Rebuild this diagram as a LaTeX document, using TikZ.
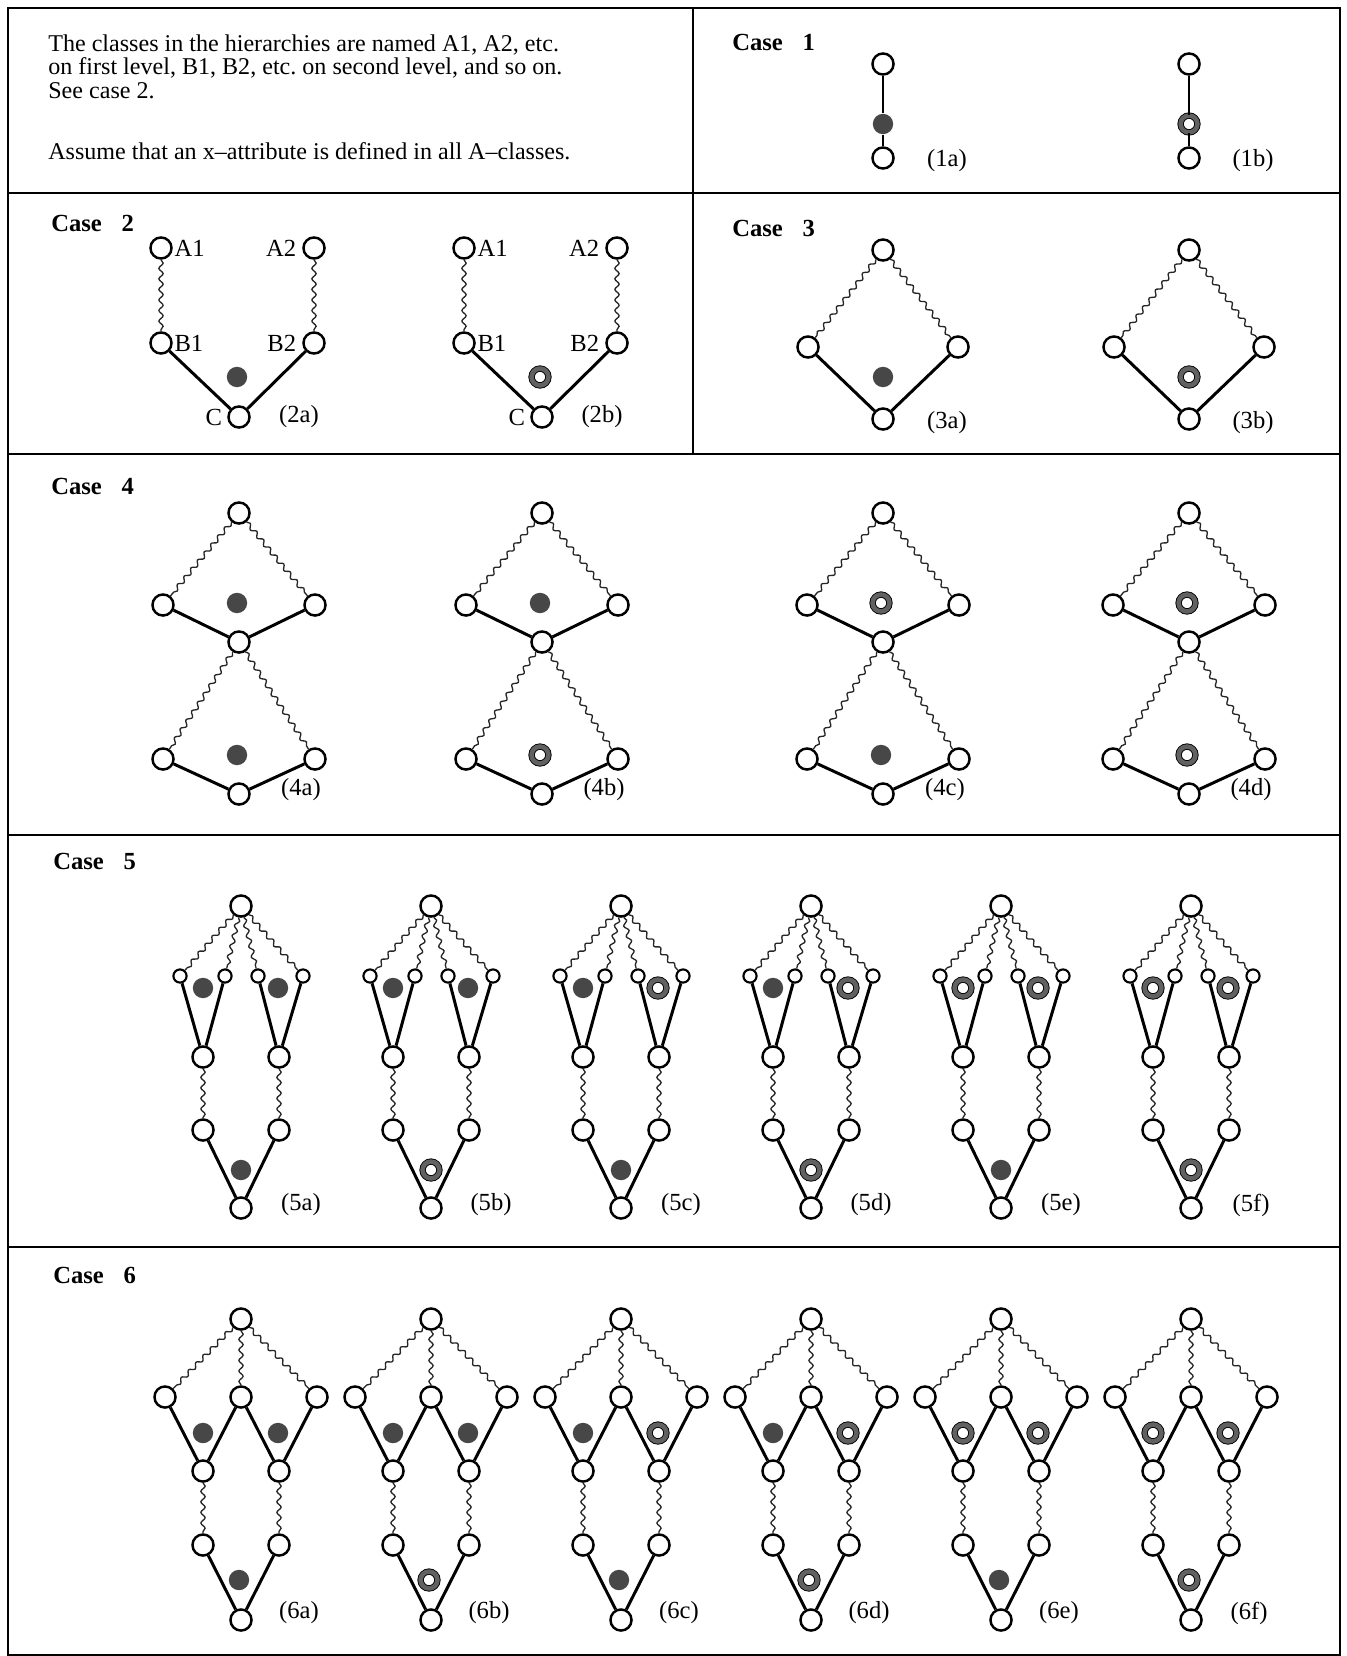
\documentclass[tikz,border=0pt]{standalone}
\usepackage{fontspec}
\setmainfont{Liberation Serif}
\usepackage{tikz}
\usetikzlibrary{decorations.pathmorphing}
\frenchspacing

\tikzset{
  cls/.style={circle,draw,line width=1.4pt,fill=white,inner sep=0pt,minimum size=12pt},
  leaf/.style={cls,line width=1.2pt,minimum size=7.5pt},
  xdot/.style={circle,fill=black!72,inner sep=0pt,minimum size=11.6pt},
  xring/.style={circle,draw=black,line width=0.5pt,double=black!62,double distance=2.6pt,fill=white,inner sep=0pt,minimum size=9.6pt},
  stem/.style={line width=1.2pt},
  bar/.style={line width=1.7pt},
  wavy/.style={line width=0.75pt,black!85,decorate,decoration={snake,amplitude=1.2pt,segment length=6pt}},
  lab/.style={inner sep=0.8pt},
  casehead/.style={anchor=west,inner sep=0pt,font=\fontsize{14}{13.3}\selectfont\bfseries},
  frame/.style={line width=1.3pt}
}

% case 1: two classes with the mark between them
\newcommand{\chaingraph}[4]{%
  \node[cls] (#2t) at (#1,64) {};
  \node[#3] (#2m) at (#1,124) {};
  \node[cls] (#2b) at (#1,158) {};
  \draw[stem] (#2t) -- (#2m) -- (#2b);
  \node (#2n) at (#1+64,161) {#4};%
}
% case 2: A1,A2 over B1,B2 over C
\newcommand{\vgraph}[4]{%
  \node[cls,label={[lab]right:A1}] (#2a) at (#1-78,248) {};
  \node[cls,label={[lab,xshift=-2.5pt]left:A2}] (#2e) at (#1+75,248) {};
  \node[cls,label={[lab]right:B1}] (#2l) at (#1-78,343) {};
  \node[cls,label={[lab,xshift=-2.5pt]left:B2}] (#2r) at (#1+75,343) {};
  \node[cls,label={[lab,xshift=-2pt]left:C}] (#2b) at (#1,417) {};
  \node[#3] (#2m) at (#1-2,377) {};
  \draw[wavy] (#2a) -- (#2l);
  \draw[wavy] (#2e) -- (#2r);
  \draw[bar] (#2l) -- (#2b) -- (#2r);
  \node (#2n) at (#1+60,417) {#4};%
}
% case 3: one diamond
\newcommand{\diamondgraph}[4]{%
  \node[cls] (#2t) at (#1,250) {};
  \node[cls] (#2l) at (#1-75,347) {};
  \node[cls] (#2r) at (#1+75,347) {};
  \node[cls] (#2b) at (#1,419) {};
  \node[#3] (#2m) at (#1,377) {};
  \draw[wavy] (#2t) -- (#2l);
  \draw[wavy] (#2t) -- (#2r);
  \draw[bar] (#2l) -- (#2b) -- (#2r);
  \node (#2n) at (#1+64,423) {#4};%
}
% case 4: two diamonds on top of each other
\newcommand{\hourglass}[5]{%
  \node[cls] (#2t) at (#1,513) {};
  \node[cls] (#2l) at (#1-76,605) {};
  \node[cls] (#2r) at (#1+76,605) {};
  \node[cls] (#2m) at (#1,642) {};
  \node[#3] (#2u) at (#1-2,603) {};
  \node[cls] (#2p) at (#1-76,759) {};
  \node[cls] (#2q) at (#1+76,759) {};
  \node[cls] (#2b) at (#1,794) {};
  \node[#4] (#2d) at (#1-2,755) {};
  \draw[wavy] (#2t) -- (#2l);
  \draw[wavy] (#2t) -- (#2r);
  \draw[bar] (#2l) -- (#2m) -- (#2r);
  \draw[wavy] (#2m) -- (#2p);
  \draw[wavy] (#2m) -- (#2q);
  \draw[bar] (#2p) -- (#2b) -- (#2q);
  \node (#2n) at (#1+62,790) {#5};%
}
% case 5: four leaves in two pairs
\newcommand{\forkgraph}[6]{%
  \node[cls] (#2t) at (#1,906) {};
  \node[leaf] (#2k) at (#1-61,976) {};
  \node[leaf] (#2s) at (#1-16,976) {};
  \node[leaf] (#2v) at (#1+17,976) {};
  \node[leaf] (#2w) at (#1+62,976) {};
  \node[#3] (#2u) at (#1-38,988) {};
  \node[#4] (#2o) at (#1+37,988) {};
  \node[cls] (#2i) at (#1-38,1057) {};
  \node[cls] (#2j) at (#1+38,1057) {};
  \node[cls] (#2p) at (#1-38,1130) {};
  \node[cls] (#2q) at (#1+38,1130) {};
  \node[#5] (#2d) at (#1,1170) {};
  \node[cls] (#2b) at (#1,1208) {};
  \draw[wavy] (#2t) -- (#2k);
  \draw[wavy] (#2t) -- (#2s);
  \draw[wavy] (#2t) -- (#2v);
  \draw[wavy] (#2t) -- (#2w);
  \draw[bar] (#2k) -- (#2i) -- (#2s);
  \draw[bar] (#2v) -- (#2j) -- (#2w);
  \draw[wavy] (#2i) -- (#2p);
  \draw[wavy] (#2j) -- (#2q);
  \draw[bar] (#2p) -- (#2b) -- (#2q);
  \node (#2n) at (#1+60,1205) {#6};%
}
% case 6: three classes joined in a W
\newcommand{\crowngraph}[6]{%
  \node[cls] (#2t) at (#1,1319) {};
  \node[cls] (#2k) at (#1-76,1397) {};
  \node[cls] (#2s) at (#1,1397) {};
  \node[cls] (#2w) at (#1+76,1397) {};
  \node[#3] (#2u) at (#1-38,1433) {};
  \node[#4] (#2o) at (#1+37,1433) {};
  \node[cls] (#2i) at (#1-38,1471) {};
  \node[cls] (#2j) at (#1+38,1471) {};
  \node[cls] (#2p) at (#1-38,1545) {};
  \node[cls] (#2q) at (#1+38,1545) {};
  \node[#5] (#2d) at (#1-2,1580) {};
  \node[cls] (#2b) at (#1,1620) {};
  \draw[wavy] (#2t) -- (#2k);
  \draw[wavy] (#2t) -- (#2s);
  \draw[wavy] (#2t) -- (#2w);
  \draw[bar] (#2k) -- (#2i) -- (#2s) -- (#2j) -- (#2w);
  \draw[wavy] (#2i) -- (#2p);
  \draw[wavy] (#2j) -- (#2q);
  \draw[bar] (#2p) -- (#2b) -- (#2q);
  \node (#2n) at (#1+58,1613) {#6};%
}

\begin{document}
\begin{tikzpicture}[x=0.02cm,y=-0.02cm,font=\fontsize{14}{13.3}\selectfont]
\useasboundingbox (0,0) rectangle (1346,1656);
% frame
\draw[frame] (8,8) rectangle (1340,1655);
\draw[frame] (8,193) -- (1340,193);
\draw[frame] (693,8) -- (693,454);
\draw[frame] (8,454) -- (1340,454);
\draw[frame] (8,835) -- (1340,835);
\draw[frame] (8,1247) -- (1340,1247);

\node[anchor=north west,align=left,inner sep=0pt,font=\fontsize{13.7}{13.6}\selectfont] (intro) at (48,34)
  {The classes in the hierarchies are named A1, A2, etc.\\
   on first level, B1, B2, etc. on second level, and so on.\\
   See case 2.\\[21pt]
   Assume that an x--attribute is defined in all A--classes.};

\node[casehead] (h1) at (732,42) {Case\hspace{0.8em}1};
\chaingraph{883}{ga}{xdot}{(1a)}
\chaingraph{1189}{gb}{xring}{(1b)}

\node[casehead] (h2) at (51,223) {Case\hspace{0.8em}2};
\vgraph{239}{va}{xdot}{(2a)}
\vgraph{542}{vb}{xring}{(2b)}

\node[casehead] (h3) at (732,228) {Case\hspace{0.8em}3};
\diamondgraph{883}{da}{xdot}{(3a)}
\diamondgraph{1189}{db}{xring}{(3b)}

\node[casehead] (h4) at (51,486) {Case\hspace{0.8em}4};
\hourglass{239}{ha}{xdot}{xdot}{(4a)}
\hourglass{542}{hb}{xdot}{xring}{(4b)}
\hourglass{883}{hc}{xring}{xdot}{(4c)}
\hourglass{1189}{hd}{xring}{xring}{(4d)}

\node[casehead] (h5) at (53,861) {Case\hspace{0.8em}5};
\forkgraph{241}{fa}{xdot}{xdot}{xdot}{(5a)}
\forkgraph{431}{fb}{xdot}{xdot}{xring}{(5b)}
\forkgraph{621}{fc}{xdot}{xring}{xdot}{(5c)}
\forkgraph{811}{fd}{xdot}{xring}{xring}{(5d)}
\forkgraph{1001}{fe}{xring}{xring}{xdot}{(5e)}
\forkgraph{1191}{ff}{xring}{xring}{xring}{(5f)}

\node[casehead] (h6) at (53,1275) {Case\hspace{0.8em}6};
\crowngraph{241}{ca}{xdot}{xdot}{xdot}{(6a)}
\crowngraph{431}{cb}{xdot}{xdot}{xring}{(6b)}
\crowngraph{621}{cc}{xdot}{xring}{xdot}{(6c)}
\crowngraph{811}{cd}{xdot}{xring}{xring}{(6d)}
\crowngraph{1001}{ce}{xring}{xring}{xdot}{(6e)}
\crowngraph{1191}{cf}{xring}{xring}{xring}{(6f)}
\end{tikzpicture}
\end{document}
